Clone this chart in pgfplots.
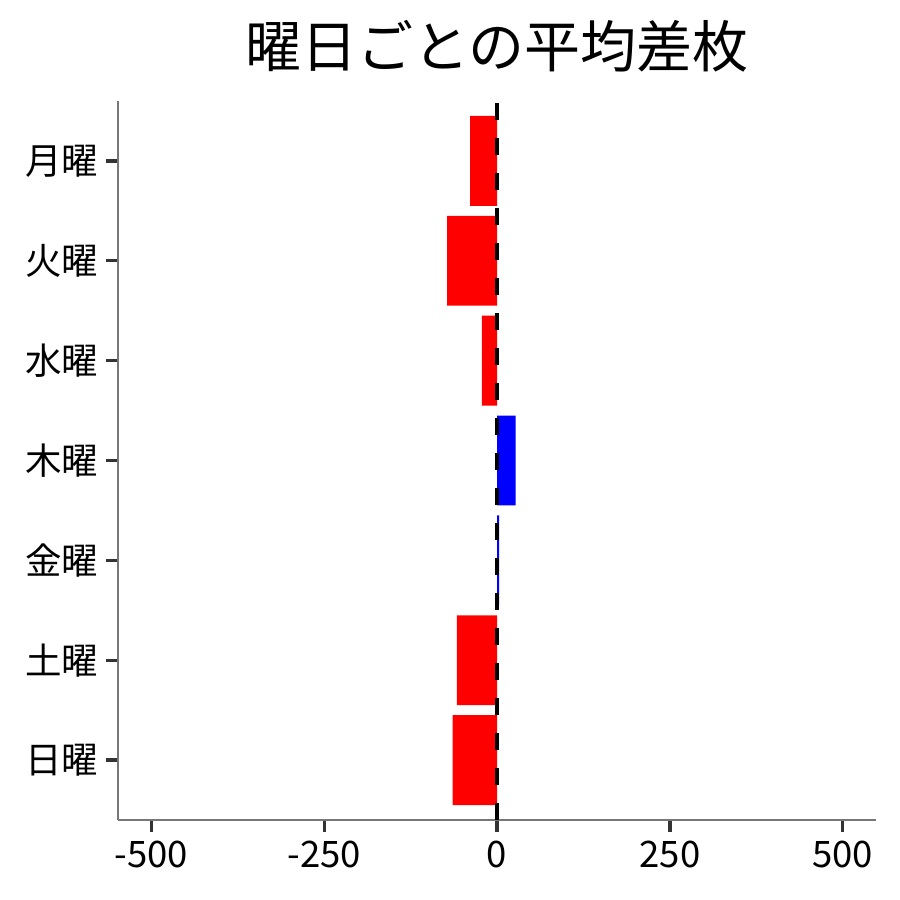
\documentclass[border=0pt]{standalone}
\usepackage{fontspec}
\setmainfont{Noto Sans CJK JP}
\usepackage{pgfplots}
\pgfplotsset{compat=1.18}

\definecolor{axisgray}{HTML}{777777}
\definecolor{tickgray}{HTML}{333333}

\begin{document}
\begin{tikzpicture}[x=1bp,y=1bp]
\path[use as bounding box] (0,0) rectangle (900,900);
\begin{axis}[
  at={(118bp,80bp)}, anchor=south west,
  scale only axis, width=758bp, height=719bp,
  xmin=-548, xmax=548, ymin=-0.6, ymax=6.6,
  axis x line*=bottom, axis y line*=left,
  axis line style={axisgray, line width=1.3bp, -},
  xtick={-500,-250,0,250,500},
  ytick={0,1,2,3,4,5,6},
  yticklabels={日曜,土曜,金曜,木曜,水曜,火曜,月曜},
  tick align=outside,
  major tick length=12bp,
  every tick/.style={tickgray, line width=3.2bp},
  tick label style={font=\fontsize{36.5bp}{40bp}\selectfont},
  /pgf/number format/assume math mode=true,
  /pgf/number format/1000 sep={},
  xticklabel style={yshift=-5bp},
  yticklabel style={xshift=-4bp},
  clip=false,
]
\addplot[xbar, bar width=0.9, bar shift=0, fill=red, draw=none]
  coordinates {(-39,6) (-72,5) (-22,4) (-58,1) (-64,0)};
\addplot[xbar, bar width=0.9, bar shift=0, fill=blue, draw=none]
  coordinates {(27,3) (3,2)};
\addplot[black, line width=4bp, dash pattern=on 17bp off 18bp]
  coordinates {(0,-0.6) (0,6.6)};
\end{axis}
\node[font=\fontsize{56bp}{62bp}\selectfont] at (497,854) {曜日ごとの平均差枚};
\end{tikzpicture}
\end{document}
